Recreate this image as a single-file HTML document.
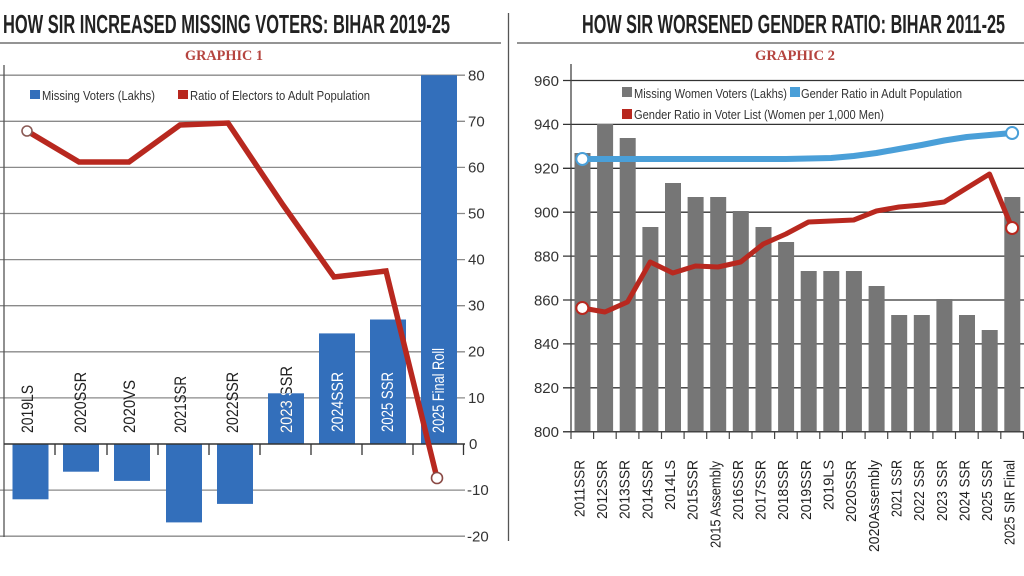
<!DOCTYPE html>
<html>
<head>
<meta charset="utf-8">
<style>
html,body{margin:0;padding:0;background:#fff;}
svg{display:block;}
text{font-family:"Liberation Sans",Arial,sans-serif;}
</style>
</head>
<body>
<svg width="1024" height="576" viewBox="0 0 1024 576" xmlns="http://www.w3.org/2000/svg">
<rect width="1024" height="576" fill="#fff"/>
<defs>
<clipPath id="posbars">
<rect x="268" y="393.3" width="36" height="50.7"/>
<rect x="319" y="333.4" width="36" height="110.6"/>
<rect x="370" y="319.5" width="36" height="124.5"/>
<rect x="421" y="75.2" width="36" height="368.8"/>
</clipPath>
</defs>

<!-- Titles -->
<text x="3" y="33" font-size="26" font-weight="bold" fill="#222" textLength="447" lengthAdjust="spacingAndGlyphs">HOW SIR INCREASED MISSING VOTERS: BIHAR 2019-25</text>
<text x="582" y="33" font-size="26" font-weight="bold" fill="#222" textLength="423" lengthAdjust="spacingAndGlyphs">HOW SIR WORSENED GENDER RATIO: BIHAR 2011-25</text>
<line x1="0" y1="43" x2="501" y2="43" stroke="#555" stroke-width="1.3"/>
<line x1="517" y1="43" x2="1024" y2="43" stroke="#555" stroke-width="1.3"/>
<line x1="508.5" y1="13" x2="508.5" y2="541" stroke="#555" stroke-width="1.3"/>
<text x="185" y="60" font-family="'Liberation Serif',serif" font-size="15" font-weight="bold" fill="#b5443f" textLength="78" lengthAdjust="spacingAndGlyphs" style="font-family:'Liberation Serif',serif">GRAPHIC 1</text>
<text x="755" y="60" font-size="15" font-weight="bold" fill="#b5443f" textLength="80" lengthAdjust="spacingAndGlyphs" style="font-family:'Liberation Serif',serif">GRAPHIC 2</text>

<!-- ===== LEFT CHART ===== -->
<g stroke="#8a8a8a" stroke-width="1.3">
<line x1="0" y1="75.2" x2="465" y2="75.2"/>
<line x1="0" y1="121.3" x2="465" y2="121.3"/>
<line x1="0" y1="167.4" x2="465" y2="167.4"/>
<line x1="0" y1="213.5" x2="465" y2="213.5"/>
<line x1="0" y1="259.6" x2="465" y2="259.6"/>
<line x1="0" y1="305.7" x2="465" y2="305.7"/>
<line x1="0" y1="351.8" x2="465" y2="351.8"/>
<line x1="0" y1="397.9" x2="465" y2="397.9"/>
<line x1="0" y1="490.1" x2="465" y2="490.1"/>
<line x1="0" y1="536.2" x2="465" y2="536.2"/>
</g>
<line x1="4" y1="65" x2="4" y2="537" stroke="#555" stroke-width="1.3"/>

<!-- left legend -->
<rect x="30" y="90" width="10" height="9" fill="#336fbb"/>
<text x="42" y="100" font-size="13" fill="#333" textLength="113" lengthAdjust="spacingAndGlyphs">Missing Voters (Lakhs)</text>
<rect x="178" y="90" width="10" height="9" fill="#b8281f"/>
<text x="190" y="100" font-size="13" fill="#333" textLength="180" lengthAdjust="spacingAndGlyphs">Ratio of Electors to Adult Population</text>

<!-- left bars -->
<g fill="#336fbb">
<rect x="12.5" y="444" width="36" height="55.3"/>
<rect x="63" y="444" width="36" height="27.7"/>
<rect x="114" y="444" width="36" height="36.9"/>
<rect x="166" y="444" width="36" height="78.4"/>
<rect x="217" y="444" width="36" height="59.9"/>
<rect x="268" y="393.3" width="36" height="50.7"/>
<rect x="319" y="333.4" width="36" height="110.6"/>
<rect x="370" y="319.5" width="36" height="124.5"/>
<rect x="421" y="75.2" width="36" height="368.8"/>
</g>
<!-- zero axis -->
<line x1="4" y1="444" x2="465" y2="444" stroke="#333" stroke-width="1.5"/>
<g stroke="#333" stroke-width="1.3">
<line x1="55" y1="444" x2="55" y2="455"/>
<line x1="107" y1="444" x2="107" y2="455"/>
<line x1="158" y1="444" x2="158" y2="455"/>
<line x1="209" y1="444" x2="209" y2="455"/>
<line x1="260" y1="444" x2="260" y2="455"/>
<line x1="311" y1="444" x2="311" y2="455"/>
<line x1="362" y1="444" x2="362" y2="455"/>
<line x1="413" y1="444" x2="413" y2="455"/>
<line x1="463.5" y1="444" x2="463.5" y2="455"/>
</g>

<!-- left category labels (dark) -->
<g font-size="17" fill="#222">
<text transform="translate(33,433) rotate(-90)" textLength="48" lengthAdjust="spacingAndGlyphs">2019LS</text>
<text transform="translate(86,433) rotate(-90)" textLength="61" lengthAdjust="spacingAndGlyphs">2020SSR</text>
<text transform="translate(135,433) rotate(-90)" textLength="53" lengthAdjust="spacingAndGlyphs">2020VS</text>
<text transform="translate(186,433) rotate(-90)" textLength="57" lengthAdjust="spacingAndGlyphs">2021SSR</text>
<text transform="translate(238,433) rotate(-90)" textLength="61" lengthAdjust="spacingAndGlyphs">2022SSR</text>
<text transform="translate(292,433) rotate(-90)" textLength="67" lengthAdjust="spacingAndGlyphs">2023 SSR</text>
</g>
<g font-size="17" fill="#fff" clip-path="url(#posbars)">
<text transform="translate(292,433) rotate(-90)" textLength="67" lengthAdjust="spacingAndGlyphs">2023 SSR</text>
<text transform="translate(343,432) rotate(-90)" textLength="60" lengthAdjust="spacingAndGlyphs">2024SSR</text>
<text transform="translate(393,432) rotate(-90)" textLength="60" lengthAdjust="spacingAndGlyphs">2025 SSR</text>
<text transform="translate(444,433) rotate(-90)" textLength="85" lengthAdjust="spacingAndGlyphs">2025 Final Roll</text>
</g>

<!-- left tick labels -->
<g font-size="15" fill="#333">
<g stroke="#8a8a8a" stroke-width="1.3"></g>
<text x="468" y="80.5">80</text>
<text x="468" y="126.5">70</text>
<text x="468" y="172.5">60</text>
<text x="468" y="218.5">50</text>
<text x="468" y="264.5">40</text>
<text x="468" y="310.5">30</text>
<text x="468" y="356.5">20</text>
<text x="468" y="403">10</text>
<text x="469" y="449">0</text>
<text x="467" y="495">-10</text>
<text x="467" y="541.5">-20</text>
</g>

<!-- left red line -->
<polyline points="27,131 79,162 129,162 180,125 228,123 283,205 334,277 386,271 437,478" fill="none" stroke="#b8281f" stroke-width="5.5" stroke-linejoin="miter" stroke-linecap="round"/>
<circle cx="27" cy="131" r="5" fill="#fff" stroke="#8a5a55" stroke-width="1.6"/>
<circle cx="437" cy="478" r="5.5" fill="#fff" stroke="#8a4a45" stroke-width="1.6"/>

<!-- ===== RIGHT CHART ===== -->
<g stroke="#333" stroke-width="1.3">
<line x1="563" y1="80.5" x2="1024" y2="80.5"/>
<line x1="563" y1="124.4" x2="1024" y2="124.4"/>
<line x1="563" y1="168.3" x2="1024" y2="168.3"/>
<line x1="563" y1="212.2" x2="1024" y2="212.2"/>
<line x1="563" y1="256.1" x2="1024" y2="256.1"/>
<line x1="563" y1="300" x2="1024" y2="300"/>
<line x1="563" y1="343.9" x2="1024" y2="343.9"/>
<line x1="563" y1="387.8" x2="1024" y2="387.8"/>
</g>

<!-- right legend -->
<rect x="622" y="87" width="10" height="10" fill="#777"/>
<text x="634" y="98" font-size="13" fill="#333" textLength="153" lengthAdjust="spacingAndGlyphs">Missing Women Voters (Lakhs)</text>
<rect x="790" y="87" width="10" height="10" fill="#4a9fd8"/>
<text x="801" y="98" font-size="13" fill="#333" textLength="161" lengthAdjust="spacingAndGlyphs">Gender Ratio in Adult Population</text>
<rect x="622" y="109" width="10" height="10" fill="#b8281f"/>
<text x="634" y="119" font-size="13" fill="#333" textLength="250" lengthAdjust="spacingAndGlyphs">Gender Ratio in Voter List (Women per 1,000 Men)</text>

<!-- right bars -->
<g fill="#767676">
<rect x="574.5" y="153" width="16" height="278.5"/>
<rect x="597.1" y="124" width="16" height="307.5"/>
<rect x="619.7" y="138" width="16" height="293.5"/>
<rect x="642.4" y="227" width="16" height="204.5"/>
<rect x="665" y="183" width="16" height="248.5"/>
<rect x="687.6" y="197" width="16" height="234.5"/>
<rect x="710.2" y="197" width="16" height="234.5"/>
<rect x="732.8" y="211" width="16" height="220.5"/>
<rect x="755.5" y="227" width="16" height="204.5"/>
<rect x="778.1" y="242" width="16" height="189.5"/>
<rect x="800.7" y="271" width="16" height="160.5"/>
<rect x="823.3" y="271" width="16" height="160.5"/>
<rect x="845.9" y="271" width="16" height="160.5"/>
<rect x="868.6" y="286" width="16" height="145.5"/>
<rect x="891.2" y="315" width="16" height="116.5"/>
<rect x="913.8" y="315" width="16" height="116.5"/>
<rect x="936.4" y="299" width="16" height="132.5"/>
<rect x="959" y="315" width="16" height="116.5"/>
<rect x="981.7" y="330" width="16" height="101.5"/>
<rect x="1004.3" y="197" width="16" height="234.5"/>
</g>
<!-- right axes -->
<line x1="571" y1="64" x2="571" y2="432" stroke="#444" stroke-width="1.3"/>
<line x1="563" y1="431.7" x2="1024" y2="431.7" stroke="#444" stroke-width="1.5"/>
<g stroke="#444" stroke-width="1.2">
<line x1="571" y1="432" x2="571" y2="439"/>
<line x1="593.6" y1="432" x2="593.6" y2="439"/>
<line x1="616.2" y1="432" x2="616.2" y2="439"/>
<line x1="638.9" y1="432" x2="638.9" y2="439"/>
<line x1="661.5" y1="432" x2="661.5" y2="439"/>
<line x1="684.1" y1="432" x2="684.1" y2="439"/>
<line x1="706.7" y1="432" x2="706.7" y2="439"/>
<line x1="729.3" y1="432" x2="729.3" y2="439"/>
<line x1="752" y1="432" x2="752" y2="439"/>
<line x1="774.6" y1="432" x2="774.6" y2="439"/>
<line x1="797.2" y1="432" x2="797.2" y2="439"/>
<line x1="819.8" y1="432" x2="819.8" y2="439"/>
<line x1="842.4" y1="432" x2="842.4" y2="439"/>
<line x1="865.1" y1="432" x2="865.1" y2="439"/>
<line x1="887.7" y1="432" x2="887.7" y2="439"/>
<line x1="910.3" y1="432" x2="910.3" y2="439"/>
<line x1="932.9" y1="432" x2="932.9" y2="439"/>
<line x1="955.5" y1="432" x2="955.5" y2="439"/>
<line x1="978.2" y1="432" x2="978.2" y2="439"/>
<line x1="1000.8" y1="432" x2="1000.8" y2="439"/>
<line x1="1023.4" y1="432" x2="1023.4" y2="439"/>
</g>

<!-- right tick labels -->
<g font-size="15" fill="#333" text-anchor="end">
<text x="559" y="86">960</text>
<text x="559" y="129.5">940</text>
<text x="559" y="173.5">920</text>
<text x="559" y="217.5">900</text>
<text x="559" y="261.5">880</text>
<text x="559" y="305.5">860</text>
<text x="559" y="349">840</text>
<text x="559" y="393">820</text>
<text x="559" y="437">800</text>
</g>

<!-- right category labels -->
<g font-size="15" fill="#222" text-anchor="end">
<text transform="translate(584.4,460) rotate(-90)" textLength="57" lengthAdjust="spacingAndGlyphs">2011SSR</text>
<text transform="translate(607,460) rotate(-90)" textLength="59" lengthAdjust="spacingAndGlyphs">2012SSR</text>
<text transform="translate(629.7,460) rotate(-90)" textLength="59" lengthAdjust="spacingAndGlyphs">2013SSR</text>
<text transform="translate(652.3,460) rotate(-90)" textLength="59" lengthAdjust="spacingAndGlyphs">2014SSR</text>
<text transform="translate(675,460) rotate(-90)" textLength="50" lengthAdjust="spacingAndGlyphs">2014LS</text>
<text transform="translate(697.6,460) rotate(-90)" textLength="60" lengthAdjust="spacingAndGlyphs">2015SSR</text>
<text transform="translate(720.3,461) rotate(-90)" textLength="87" lengthAdjust="spacingAndGlyphs">2015 Assembly</text>
<text transform="translate(742.9,460) rotate(-90)" textLength="60" lengthAdjust="spacingAndGlyphs">2016SSR</text>
<text transform="translate(765.6,460) rotate(-90)" textLength="60" lengthAdjust="spacingAndGlyphs">2017SSR</text>
<text transform="translate(788.2,460) rotate(-90)" textLength="60" lengthAdjust="spacingAndGlyphs">2018SSR</text>
<text transform="translate(810.9,460) rotate(-90)" textLength="60" lengthAdjust="spacingAndGlyphs">2019SSR</text>
<text transform="translate(833.5,460) rotate(-90)" textLength="50" lengthAdjust="spacingAndGlyphs">2019LS</text>
<text transform="translate(856.2,460) rotate(-90)" textLength="62" lengthAdjust="spacingAndGlyphs">2020SSR</text>
<text transform="translate(878.8,460) rotate(-90)" textLength="92" lengthAdjust="spacingAndGlyphs">2020Assembly</text>
<text transform="translate(901.5,460) rotate(-90)" textLength="57" lengthAdjust="spacingAndGlyphs">2021 SSR</text>
<text transform="translate(924.1,460) rotate(-90)" textLength="61" lengthAdjust="spacingAndGlyphs">2022 SSR</text>
<text transform="translate(946.8,460) rotate(-90)" textLength="61" lengthAdjust="spacingAndGlyphs">2023 SSR</text>
<text transform="translate(969.4,460) rotate(-90)" textLength="61" lengthAdjust="spacingAndGlyphs">2024 SSR</text>
<text transform="translate(992.1,460) rotate(-90)" textLength="61" lengthAdjust="spacingAndGlyphs">2025 SSR</text>
<text transform="translate(1014.7,460) rotate(-90)" textLength="85" lengthAdjust="spacingAndGlyphs">2025 SIR Final</text>
</g>

<!-- blue line -->
<polyline points="582.3,159 604.9,159 627.5,159 650.2,159 672.8,159 695.4,159 718,159 740.6,159 763.3,159 785.9,159 808.5,158.5 831.1,158 853.7,156 876.4,153 899,149 921.6,145 944.2,140.5 966.8,137 989.5,135 1012.1,133" fill="none" stroke="#4a9fd8" stroke-width="6" stroke-linejoin="round" stroke-linecap="round"/>
<!-- red line -->
<polyline points="582.3,308 604.9,312 627.5,302 650.2,262 672.8,273 695.4,266 718,267 740.6,262 763.3,244 785.9,234 808.5,222 831.1,221 853.7,220 876.4,211 899,207 921.6,205 944.2,202 966.8,188 989.5,174 1012.1,228" fill="none" stroke="#b8281f" stroke-width="5" stroke-linejoin="round" stroke-linecap="round"/>
<circle cx="582.3" cy="159" r="6" fill="#fff" stroke="#4a9fd8" stroke-width="2"/>
<circle cx="1012.1" cy="133" r="6" fill="#fff" stroke="#4a9fd8" stroke-width="2"/>
<circle cx="582.3" cy="308" r="6" fill="#fff" stroke="#b8281f" stroke-width="2"/>
<circle cx="1012.1" cy="228" r="6" fill="#fff" stroke="#b8281f" stroke-width="2"/>
</svg>
</body>
</html>
